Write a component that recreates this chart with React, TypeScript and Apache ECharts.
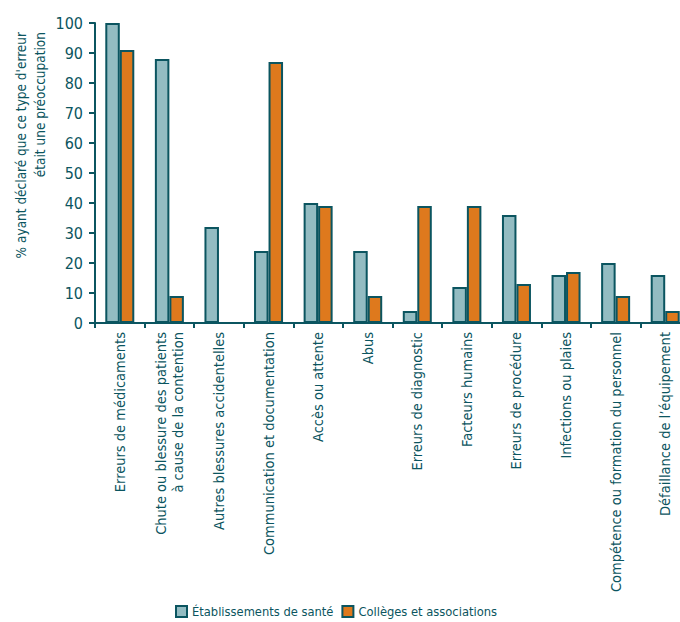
import React, { useEffect, useRef } from "react";
import * as echarts from "echarts";

const categories = [
  "Erreurs de médicaments",
  "Chute ou blessure des patients\nà cause de la contention",
  "Autres blessures accidentelles",
  "Communication et documentation",
  "Accès ou attente",
  "Abus",
  "Erreurs de diagnostic",
  "Facteurs humains",
  "Erreurs de procédure",
  "Infections ou plaies",
  "Compétence ou formation du personnel",
  "Défaillance de l’équipement",
];
const etablissements = [100, 88, 32, 24, 40, 24, 4, 12, 36, 16, 20, 16];
const colleges = [91, 9, 0, 87, 39, 9, 39, 39, 13, 17, 9, 4];
const seriesNames = ["Établissements de santé", "Collèges et associations"];
const yTicks = { min: 0, max: 100, interval: 10 };
const yTitle = "% ayant déclaré que ce type d'erreur\nétait une préoccupation";

const DARK = "#0b5560";
const TEAL = "#93bcc2";
const ORANGE = "#de791d";
const FONT = "'DejaVu Sans Condensed', 'Roboto', sans-serif";

export default function App() {
  const ref = useRef<HTMLDivElement>(null);
  useEffect(() => {
    if (!ref.current) return;
    const chart = echarts.init(ref.current, null, { renderer: "svg" });
    chart.setOption({
      animation: false,
      textStyle: { fontFamily: FONT },
      grid: {
        left: 95,
        top: 23,
        width: 595,
        height: 300,
        containLabel: false,
        outerBoundsMode: "none",
      },
      legend: {
        top: 605,
        left: 175,
        padding: 0,
        itemWidth: 11,
        itemHeight: 11,
        itemGap: 8,
        icon: "rect",
        textStyle: { color: DARK, fontSize: 12.8, fontFamily: FONT },
        data: seriesNames,
      },
      graphic: [
        {
          type: "text",
          x: 30,
          y: 32,
          rotation: Math.PI / 2,
          style: {
            text: yTitle,
            fill: DARK,
            font: `13.5px ${FONT}`,
            align: "right",
            verticalAlign: "middle",
            lineHeight: 19,
          },
        },
      ],
      xAxis: {
        type: "category",
        data: categories,
        axisLine: { lineStyle: { color: DARK, width: 2 } },
        axisTick: { show: true, alignWithLabel: false, length: 5, lineStyle: { color: DARK, width: 2 } },
        axisLabel: {
          interval: 0,
          rotate: 90,
          color: DARK,
          fontSize: 14.5,
          lineHeight: 17,
          margin: 9,
          fontFamily: FONT,
        },
      },
      yAxis: {
        type: "value",
        min: yTicks.min,
        max: yTicks.max,
        interval: yTicks.interval,
        splitLine: { show: false },
        axisLine: { show: true, lineStyle: { color: DARK, width: 2 } },
        axisTick: { show: true, length: 6, lineStyle: { color: DARK, width: 2 } },
        axisLabel: { color: DARK, fontSize: 16, margin: 12, fontFamily: FONT },
      },
      series: [
        {
          name: seriesNames[0],
          type: "bar",
          data: etablissements,
          barWidth: 14.5,
          barGap: "0%",
          itemStyle: { color: TEAL, borderColor: DARK, borderWidth: 2 },
        },
        {
          name: seriesNames[1],
          type: "bar",
          data: colleges,
          barWidth: 14.5,
          barGap: "0%",
          itemStyle: { color: ORANGE, borderColor: DARK, borderWidth: 2 },
        },
      ],
    });
    return () => chart.dispose();
  }, []);
  return <div ref={ref} style={{ width: 680, height: 622, position: "absolute", left: 0, top: 0 }} />;
}
